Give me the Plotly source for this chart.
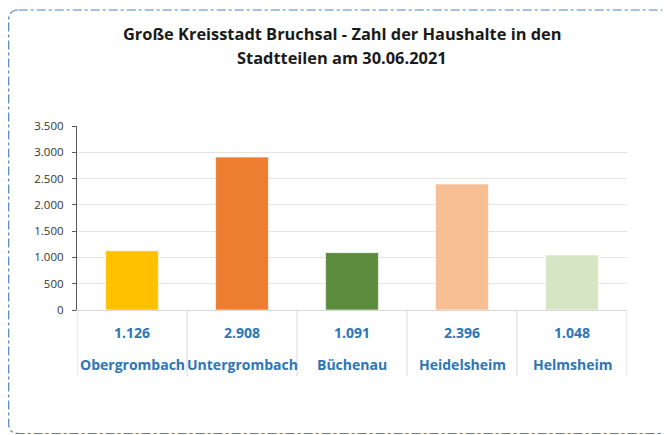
import plotly.graph_objects as go

categories = ["Obergrombach", "Untergrombach", "Büchenau", "Heidelsheim", "Helmsheim"]
values = [1126, 2908, 1091, 2396, 1048]
value_labels = ["1.126", "2.908", "1.091", "2.396", "1.048"]
bar_colors = ["#FFC000", "#ED7D31", "#5B8C3E", "#F6BE92", "#D6E6C5"]
y_tickvals = [0, 500, 1000, 1500, 2000, 2500, 3000, 3500]
y_ticktext = ["0", "500", "1.000", "1.500", "2.000", "2.500", "3.000", "3.500"]
title_lines = ["Große Kreisstadt Bruchsal - Zahl der Haushalte in den", "Stadtteilen am 30.06.2021"]

OFF = 8  # default page body margin
W, H = 670 - OFF, 435 - OFF
L, R, T, B = 77 - OFF, 670 - 627, 126 - OFF, 435 - 310
PW, PH = W - L - R, H - T - B


def px_x(px):  # screen px -> paper
    return (px - OFF - L) / PW


def px_y(py):
    return (H - B - (py - OFF)) / PH


idx = list(range(len(categories)))
fig = go.Figure()
fig.add_trace(go.Bar(
    x=idx, y=values, width=0.48,
    marker=dict(color=bar_colors, line=dict(color="rgba(255,255,255,0.6)", width=1)),
    hoverinfo="skip",
))

annotations = []
blue = "#2E75B6"
for i in idx:
    annotations.append(dict(x=i, y=px_y(332), xref="x", yref="paper", text=value_labels[i],
                            showarrow=False, font=dict(family="Open Sans", size=14, color=blue, weight="bold"),
                            yanchor="middle"))
    annotations.append(dict(x=i, y=px_y(364), xref="x", yref="paper", text=categories[i],
                            showarrow=False, font=dict(family="Open Sans", size=14, color=blue, weight="bold"),
                            yanchor="middle"))
for k, line in enumerate(title_lines):
    annotations.append(dict(x=px_x(342), y=px_y(33 + 24 * k), xref="paper", yref="paper", text=line,
                            showarrow=False, font=dict(family="Open Sans", size=16.4, color="#1a1a1a", weight="bold"),
                            yanchor="middle", xanchor="center"))

shapes = []
for i in range(len(categories) + 1):
    shapes.append(dict(type="line", xref="x", yref="paper", x0=i - 0.5, x1=i - 0.5,
                       y0=0, y1=px_y(376), line=dict(color="#D9D9D9", width=1)))

# rounded dash-dot border
x0, x1, y0, y1, r = 8.7, 668.8, 10, 433.5, 10


def P(x, y):
    return f"{px_x(x):.5f},{px_y(y):.5f}"


path = (f"M {P(x0 + r, y0)} L {P(x1 - r, y0)} Q {P(x1, y0)} {P(x1, y0 + r)} "
        f"L {P(x1, y1 - r)} Q {P(x1, y1)} {P(x1 - r, y1)} L {P(x0 + r, y1)} "
        f"Q {P(x0, y1)} {P(x0, y1 - r)} L {P(x0, y0 + r)} Q {P(x0, y0)} {P(x0 + r, y0)} Z")
shapes.append(dict(type="path", xref="paper", yref="paper", path=path,
                   line=dict(color="#4F81BD", width=1.2, dash="dashdot")))

fig.update_layout(
    width=W, height=H,
    margin=dict(l=L, r=R, t=T, b=B, pad=0),
    paper_bgcolor="white", plot_bgcolor="white",
    showlegend=False,
    annotations=annotations, shapes=shapes,
    xaxis=dict(range=[-0.5, len(categories) - 0.5], showticklabels=False, showgrid=False,
               zeroline=False, showline=True, linecolor="#D9D9D9", linewidth=1, ticks="", fixedrange=True),
    yaxis=dict(range=[0, 3500], tickvals=y_tickvals, ticktext=y_ticktext,
               showgrid=True, gridcolor="#E4E4E4", gridwidth=1.2, zeroline=False,
               showline=True, linecolor="#595959", linewidth=1.2,
               ticks="outside", ticklen=4, tickcolor="#595959", tickwidth=1.2,
               ticklabelstandoff=6,
               tickfont=dict(family="Open Sans", size=11.5, color="#333333"), fixedrange=True),
    font=dict(family="Open Sans"),
)

fig.write_html("out.html")
